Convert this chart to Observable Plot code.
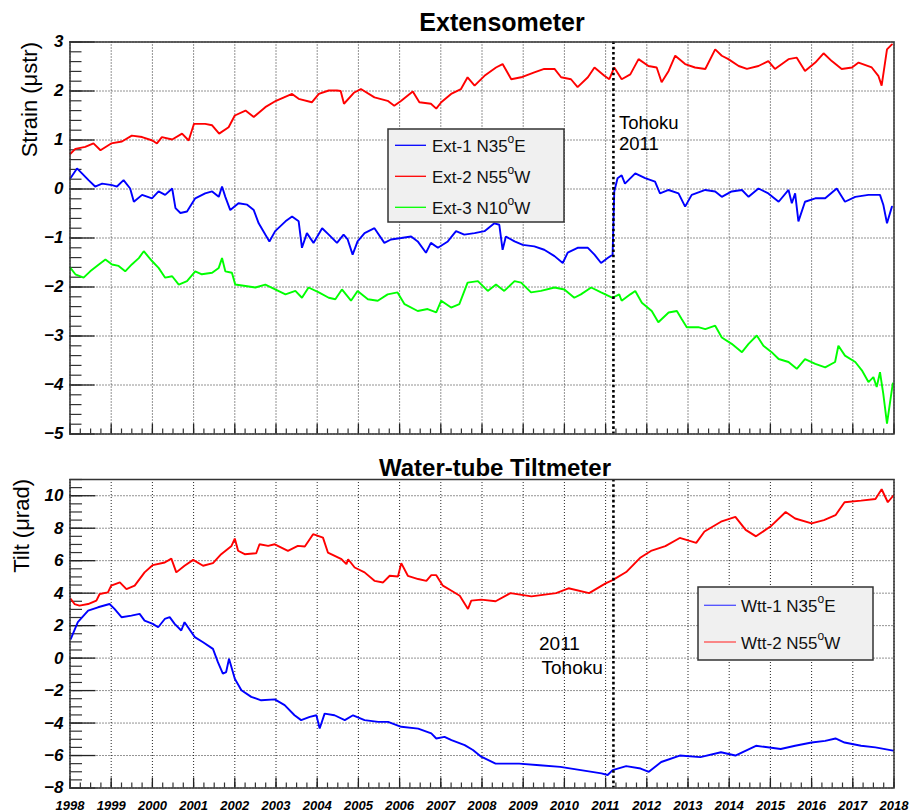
<!DOCTYPE html>
<html><head><meta charset="utf-8">
<script src="https://cdn.jsdelivr.net/npm/d3@7"></script>
<script src="https://cdn.jsdelivr.net/npm/@observablehq/plot@0.6"></script>
<style>
body{margin:0;background:#fff;}
#wrap{position:relative;width:909px;height:812px;overflow:hidden;background:#fff;font-family:"Liberation Sans",Arial,sans-serif;}
#wrap > svg{position:absolute;left:0;}
g[aria-label="y-axis tick label"] text, g[aria-label="x-axis tick label"] text{font-weight:bold;font-style:italic;}
</style></head><body><div id="wrap"></div>
<script>
// ---------- data (year, value) ----------
const ext1 = [[1998.01,0.22],[1998.17,0.42],[1998.29,0.32],[1998.45,0.18],[1998.61,0.05],[1998.78,0.11],[1999.02,0.08],[1999.14,0.05],[1999.30,0.18],[1999.46,0.01],[1999.55,-0.26],[1999.75,-0.12],[1999.99,-0.19],[2000.15,-0.05],[2000.31,-0.12],[2000.48,0.01],[2000.56,-0.39],[2000.68,-0.49],[2000.84,-0.46],[2001.04,-0.19],[2001.28,-0.09],[2001.45,-0.05],[2001.61,-0.16],[2001.69,0.05],[2001.77,-0.16],[2001.89,-0.43],[2002.09,-0.29],[2002.30,-0.32],[2002.46,-0.43],[2002.58,-0.70],[2002.74,-0.93],[2002.84,-1.07],[2002.98,-0.86],[2003.23,-0.66],[2003.39,-0.56],[2003.55,-0.66],[2003.63,-1.20],[2003.75,-0.90],[2003.91,-1.10],[2004.12,-0.80],[2004.28,-0.93],[2004.48,-1.10],[2004.64,-0.93],[2004.74,-1.03],[2004.86,-1.34],[2004.98,-1.07],[2005.15,-0.90],[2005.39,-0.80],[2005.63,-1.10],[2005.79,-1.03],[2006.04,-1.00],[2006.28,-0.97],[2006.44,-1.07],[2006.64,-1.30],[2006.76,-1.10],[2006.93,-1.20],[2007.17,-1.07],[2007.37,-0.86],[2007.57,-0.93],[2007.82,-0.90],[2008.06,-0.86],[2008.30,-0.70],[2008.42,-0.73],[2008.50,-1.24],[2008.58,-0.97],[2008.79,-1.07],[2008.99,-1.14],[2009.27,-1.17],[2009.51,-1.24],[2009.76,-1.37],[2009.96,-1.51],[2010.08,-1.30],[2010.32,-1.20],[2010.57,-1.20],[2010.73,-1.34],[2010.89,-1.51],[2011.05,-1.41],[2011.17,-1.34],[2011.21,-0.05],[2011.29,0.22],[2011.39,0.28],[2011.47,0.11],[2011.72,0.32],[2011.96,0.22],[2012.20,0.15],[2012.32,-0.09],[2012.53,-0.02],[2012.77,-0.09],[2012.93,-0.36],[2013.09,-0.12],[2013.42,-0.02],[2013.66,-0.05],[2013.82,-0.16],[2014.06,-0.05],[2014.31,-0.02],[2014.47,-0.16],[2014.71,0.01],[2014.95,-0.09],[2015.20,-0.26],[2015.44,-0.02],[2015.52,-0.29],[2015.60,-0.09],[2015.68,-0.66],[2015.84,-0.26],[2016.09,-0.19],[2016.33,-0.19],[2016.61,0.01],[2016.81,-0.26],[2017.06,-0.16],[2017.38,-0.12],[2017.66,-0.12],[2017.74,-0.32],[2017.83,-0.70],[2017.95,-0.36]];

const ext2 = [[1998.01,0.72],[1998.13,0.82],[1998.37,0.86],[1998.57,0.93],[1998.74,0.79],[1999.00,0.93],[1999.26,0.97],[1999.50,1.09],[1999.75,1.06],[2000.00,0.99],[2000.11,0.93],[2000.23,1.06],[2000.48,1.01],[2000.72,1.13],[2000.88,0.99],[2001.01,1.33],[2001.28,1.33],[2001.45,1.30],[2001.62,1.13],[2001.85,1.26],[2002.00,1.50],[2002.26,1.60],[2002.46,1.47],[2002.74,1.67],[2003.00,1.80],[2003.39,1.94],[2003.55,1.84],[2003.87,1.77],[2004.04,1.94],[2004.28,2.01],[2004.48,2.01],[2004.57,2.00],[2004.65,1.74],[2004.90,1.97],[2005.06,2.04],[2005.39,1.87],[2005.71,1.80],[2005.87,1.70],[2006.04,1.80],[2006.32,1.99],[2006.48,1.77],[2006.76,1.74],[2006.89,1.64],[2007.01,1.77],[2007.25,1.94],[2007.49,2.04],[2007.65,2.28],[2007.82,2.11],[2008.06,2.31],[2008.34,2.48],[2008.50,2.55],[2008.71,2.24],[2008.95,2.28],[2009.27,2.38],[2009.51,2.45],[2009.76,2.45],[2009.92,2.28],[2010.16,2.24],[2010.32,2.08],[2010.57,2.28],[2010.73,2.48],[2010.97,2.31],[2011.09,2.24],[2011.21,2.48],[2011.39,2.24],[2011.60,2.34],[2011.80,2.65],[2012.04,2.51],[2012.24,2.48],[2012.36,2.18],[2012.53,2.41],[2012.69,2.72],[2012.93,2.55],[2013.17,2.48],[2013.42,2.45],[2013.66,2.85],[2013.82,2.72],[2013.98,2.65],[2014.23,2.51],[2014.43,2.45],[2014.71,2.51],[2014.95,2.61],[2015.11,2.45],[2015.44,2.65],[2015.64,2.68],[2015.84,2.41],[2016.09,2.58],[2016.29,2.77],[2016.49,2.61],[2016.73,2.45],[2016.98,2.48],[2017.14,2.58],[2017.46,2.48],[2017.62,2.31],[2017.70,2.11],[2017.83,2.85],[2017.95,2.95]];

const ext3 = [[1998.01,-1.61],[1998.13,-1.74],[1998.33,-1.81],[1998.49,-1.68],[1998.70,-1.54],[1998.86,-1.44],[1999.02,-1.54],[1999.18,-1.57],[1999.34,-1.68],[1999.50,-1.54],[1999.67,-1.41],[1999.79,-1.27],[1999.99,-1.47],[2000.15,-1.61],[2000.31,-1.81],[2000.48,-1.78],[2000.64,-1.95],[2000.84,-1.88],[2001.04,-1.68],[2001.20,-1.74],[2001.45,-1.71],[2001.61,-1.61],[2001.69,-1.41],[2001.77,-1.68],[2001.93,-1.71],[2002.01,-1.95],[2002.26,-1.98],[2002.50,-2.01],[2002.74,-1.95],[2002.98,-2.05],[2003.23,-2.15],[2003.47,-2.08],[2003.63,-2.22],[2003.79,-2.01],[2004.04,-2.11],[2004.28,-2.22],[2004.44,-2.25],[2004.60,-2.05],[2004.82,-2.28],[2004.98,-2.08],[2005.23,-2.25],[2005.47,-2.28],[2005.71,-2.15],[2005.95,-2.11],[2006.12,-2.35],[2006.44,-2.49],[2006.68,-2.45],[2006.89,-2.52],[2007.01,-2.28],[2007.25,-2.42],[2007.45,-2.35],[2007.65,-1.91],[2007.90,-1.88],[2008.14,-2.08],[2008.34,-1.95],[2008.54,-2.08],[2008.79,-1.88],[2008.95,-1.91],[2009.19,-2.11],[2009.43,-2.08],[2009.76,-2.01],[2010.00,-2.05],[2010.24,-2.22],[2010.40,-2.15],[2010.65,-2.01],[2010.89,-2.11],[2011.17,-2.22],[2011.33,-2.15],[2011.39,-2.28],[2011.60,-2.15],[2011.72,-2.08],[2011.88,-2.32],[2012.12,-2.49],[2012.28,-2.72],[2012.53,-2.52],[2012.73,-2.49],[2012.85,-2.66],[2012.97,-2.82],[2013.25,-2.82],[2013.42,-2.86],[2013.66,-2.79],[2013.82,-3.03],[2014.06,-3.16],[2014.31,-3.33],[2014.47,-3.16],[2014.67,-2.99],[2014.83,-3.20],[2015.03,-3.33],[2015.20,-3.47],[2015.44,-3.53],[2015.64,-3.67],[2015.84,-3.47],[2016.09,-3.57],[2016.33,-3.64],[2016.57,-3.53],[2016.65,-3.20],[2016.81,-3.40],[2017.06,-3.53],[2017.22,-3.70],[2017.38,-3.94],[2017.50,-3.84],[2017.58,-4.04],[2017.66,-3.74],[2017.74,-4.18],[2017.83,-4.79],[2017.91,-4.32],[2017.97,-3.97]];

const wtt1 = [[1998.02,1.19],[1998.19,2.21],[1998.44,2.92],[1998.68,3.13],[1998.96,3.33],[1999.08,3.03],[1999.25,2.52],[1999.49,2.62],[1999.69,2.72],[1999.81,2.31],[2000.01,2.11],[2000.14,1.90],[2000.30,2.41],[2000.42,2.52],[2000.54,2.11],[2000.70,1.70],[2000.78,2.21],[2001.03,1.29],[2001.23,0.98],[2001.47,0.57],[2001.59,-0.25],[2001.71,-0.96],[2001.79,-0.86],[2001.86,-0.04],[2002.00,-1.27],[2002.16,-1.98],[2002.40,-2.39],[2002.64,-2.60],[2002.97,-2.54],[2003.21,-2.90],[2003.45,-3.52],[2003.61,-3.82],[2003.82,-3.62],[2003.98,-3.52],[2004.06,-4.34],[2004.18,-3.42],[2004.42,-3.52],[2004.67,-3.82],[2004.87,-3.52],[2005.15,-3.82],[2005.48,-3.93],[2005.72,-3.93],[2006.04,-4.23],[2006.45,-4.34],[2006.77,-4.64],[2006.89,-4.95],[2007.09,-4.85],[2007.26,-5.05],[2007.58,-5.36],[2007.78,-5.66],[2007.98,-6.07],[2008.33,-6.50],[2008.90,-6.50],[2009.40,-6.60],[2009.90,-6.70],[2010.40,-6.90],[2010.90,-7.10],[2011.05,-7.20],[2011.17,-6.90],[2011.50,-6.65],[2011.85,-6.80],[2012.05,-7.00],[2012.35,-6.40],[2012.80,-6.00],[2013.30,-6.10],[2013.80,-5.80],[2014.15,-6.00],[2014.65,-5.40],[2015.25,-5.60],[2015.60,-5.40],[2016.00,-5.20],[2016.33,-5.10],[2016.58,-4.95],[2016.80,-5.20],[2017.20,-5.40],[2017.55,-5.50],[2017.98,-5.70]];

const wtt2 = [[1998.02,3.64],[1998.11,3.33],[1998.23,3.23],[1998.44,3.33],[1998.64,3.54],[1998.72,3.95],[1998.92,4.05],[1999.00,4.46],[1999.21,4.66],[1999.37,4.25],[1999.57,4.46],[1999.81,5.28],[2000.01,5.73],[2000.30,5.89],[2000.46,6.13],[2000.58,5.28],[2000.78,5.69],[2000.99,6.05],[2001.23,5.69],[2001.47,5.85],[2001.67,6.40],[2001.92,6.91],[2002.00,7.36],[2002.08,6.61],[2002.24,6.40],[2002.52,6.46],[2002.60,7.01],[2002.81,6.91],[2002.97,7.01],[2003.29,6.61],[2003.53,6.91],[2003.70,6.87],[2003.90,7.63],[2004.14,7.42],[2004.26,6.50],[2004.59,6.09],[2004.71,5.79],[2004.75,6.09],[2004.91,5.58],[2005.15,5.28],[2005.39,4.76],[2005.60,4.66],[2005.76,5.07],[2005.96,5.03],[2006.04,5.85],[2006.20,5.07],[2006.45,4.87],[2006.65,4.76],[2006.77,5.11],[2006.89,5.11],[2007.05,4.46],[2007.26,4.15],[2007.46,3.84],[2007.66,3.03],[2007.74,3.54],[2007.98,3.60],[2008.33,3.50],[2008.69,4.00],[2009.20,3.80],[2009.80,4.00],[2010.10,4.30],[2010.60,4.00],[2011.00,4.60],[2011.17,4.80],[2011.50,5.30],[2011.85,6.20],[2012.10,6.60],[2012.45,6.90],[2012.80,7.40],[2013.20,7.10],[2013.40,7.80],[2013.80,8.40],[2014.15,8.70],[2014.40,7.90],[2014.65,7.50],[2015.00,8.10],[2015.37,9.00],[2015.60,8.60],[2016.00,8.30],[2016.30,8.50],[2016.58,8.80],[2016.80,9.60],[2017.20,9.70],[2017.55,9.80],[2017.70,10.40],[2017.85,9.60],[2017.98,10.00]];

const tohokuYear = 2011.19;
const yearTicks = d3.range(1998, 2019, 1);
const yearMinor = d3.range(1998, 2018.01, 0.25);
const strainTicks = [3, 2, 1, 0, -1, -2, -3, -4, -5];
const strainMinor = d3.range(-5, 3.001, 0.2);
const tiltTicks = [10, 8, 6, 4, 2, 0, -2, -4, -6, -8];
const tiltMinor = d3.range(-8, 11.001, 0.5);
const extNames = ["Ext-1 N35", "Ext-2 N55", "Ext-3 N10"];
const extDirs = ["E", "W", "W"];
const wttNames = ["Wtt-1 N35", "Wtt-2 N55"];
const wttDirs = ["E", "W"];

// ---------- styles ----------
const FONT = "'Liberation Sans', Arial, Helvetica, sans-serif";
const BLUE = "#0000ff", RED = "#ff0000", GREEN = "#00ff00";
const W = 909;
const ML = 69.5, MR = 15.5;
const PW = W - ML - MR;
const fmt = d => d < 0 ? "\u2212" + (-d) : String(d);
const px = d => d[0], py = d => d[1];

function panel({height, top, bottom, ydom, yt, ym, majorLen, minorLen, series, xlabels}) {
  const PH = height - top - bottom;
  const marks = [
    Plot.ruleX(yearTicks, {x: d => d, stroke: "#000", strokeOpacity: 0.85, strokeDasharray: "1,2", strokeWidth: 1}),
    Plot.ruleY(yt, {y: d => d, stroke: "#000", strokeOpacity: 0.85, strokeDasharray: "1,2", strokeWidth: 1}),
    Plot.tickY(ym, {y: d => d, stroke: "#333", strokeWidth: 1.2, insetRight: PW - minorLen}),
    Plot.tickY(yt, {y: d => d, stroke: "#222", strokeWidth: 1.3, insetRight: PW - majorLen}),
    Plot.tickX(yearMinor, {x: d => d, stroke: "#333", strokeWidth: 1.2, insetTop: PH - 5}),
    Plot.tickX(yearTicks, {x: d => d, stroke: "#222", strokeWidth: 1.3, insetTop: PH - 10}),
    ...series.map(s => Plot.line(s.data, {x: px, y: py, stroke: s.color, strokeWidth: 1.9, strokeLinejoin: "miter"})),
    Plot.ruleX([tohokuYear], {x: d => d, stroke: "#000", strokeWidth: 2.6, strokeDasharray: "2.6,2.6"}),
    Plot.frame({stroke: "#333", strokeWidth: 1.5}),
    Plot.axisY({ticks: yt, tickSize: 0, tickPadding: 6.5, tickFormat: fmt, fontSize: 17, fontWeight: "bold", fontStyle: "italic", label: null})
  ];
  if (xlabels) marks.push(Plot.axisX({ticks: yearTicks, tickSize: 0, tickPadding: 12.5, tickFormat: d => String(d), fontSize: 13, fontWeight: "bold", fontStyle: "italic", label: null}));
  return Plot.plot({
    width: W, height,
    marginLeft: ML, marginRight: MR, marginTop: top, marginBottom: bottom,
    x: {domain: [1998, 2018], axis: null},
    y: {domain: ydom, axis: null},
    style: {fontFamily: FONT, background: "transparent", overflow: "visible", color: "#000"},
    marks
  });
}

const wrap = document.getElementById("wrap");

const topPlot = panel({
  height: 440, top: 41.5, bottom: 6.5, ydom: [-5, 3], yt: strainTicks, ym: strainMinor,
  majorLen: 25, minorLen: 12,
  series: [{data: ext3, color: GREEN}, {data: ext1, color: BLUE}, {data: ext2, color: RED}],
  xlabels: false
});
topPlot.style.top = "0px";
wrap.appendChild(topPlot);

const botPlot = panel({
  height: 372, top: 39, bottom: 24.5, ydom: [-8, 11], yt: tiltTicks, ym: tiltMinor,
  majorLen: 26, minorLen: 12.5,
  series: [{data: wtt1, color: BLUE}, {data: wtt2, color: RED}],
  xlabels: true
});
botPlot.style.top = "440px";
wrap.appendChild(botPlot);

// ---------- overlay: titles, labels, annotations, legends ----------
const ov = d3.create("svg").attr("width", W).attr("height", 812)
  .style("top", "0px").style("font-family", FONT).style("overflow", "visible");

ov.append("text").attr("x", 502).attr("y", 31).attr("text-anchor", "middle")
  .attr("font-size", 25).attr("font-weight", "bold").text("Extensometer");
ov.append("text").attr("x", 495).attr("y", 476).attr("text-anchor", "middle")
  .attr("font-size", 24).attr("font-weight", "bold").text("Water-tube Tiltmeter");

ov.append("text").attr("transform", "translate(37,42) rotate(-90)").attr("text-anchor", "end")
  .attr("font-size", 22).text("Strain (\u03bcstr)");
ov.append("text").attr("transform", "translate(29,479) rotate(-90)").attr("text-anchor", "end")
  .attr("font-size", 22).text("Tilt (\u03bcrad)");

function twoLines(x1, x2, y1, dy, fs, a, b) {
  const t = ov.append("text").attr("font-size", fs);
  t.append("tspan").attr("x", x1).attr("y", y1).text(a);
  t.append("tspan").attr("x", x2).attr("y", y1 + dy).text(b);
}
twoLines(619, 619, 128.5, 21.5, 18.5, "Tohoku", "2011");
twoLines(539, 541.5, 650, 24, 19, "2011", "Tohoku");

function legend(x, y, w, h, names, dirs, colors, baselines, lineX1, lineX2, textX) {
  const g = ov.append("g");
  g.append("rect").attr("x", x).attr("y", y).attr("width", w).attr("height", h)
    .attr("fill", "#f0f0f0").attr("stroke", "#333").attr("stroke-width", 1.5);
  names.forEach((n, i) => {
    const b = baselines[i];
    g.append("line").attr("x1", lineX1).attr("x2", lineX2).attr("y1", b - 7).attr("y2", b - 7)
      .attr("stroke", colors[i]).attr("stroke-width", 1.3);
    const t = g.append("text").attr("x", textX).attr("y", b).attr("font-size", 17).attr("fill", "#111");
    t.append("tspan").text(n);
    t.append("tspan").attr("dy", -9.5).attr("font-size", 12).text("o");
    t.append("tspan").attr("dy", 9.5).text(dirs[i]);
  });
}
legend(388, 129, 176, 93, extNames, extDirs, [BLUE, RED, GREEN], [152.3, 183.3, 214.3], 395, 426, 432);
legend(698, 587, 175, 73, wttNames, wttDirs, ["#4d4dff", "#ff4d4d"], [612.3, 649], 704, 736, 741);

wrap.appendChild(ov.node());
</script></body></html>
